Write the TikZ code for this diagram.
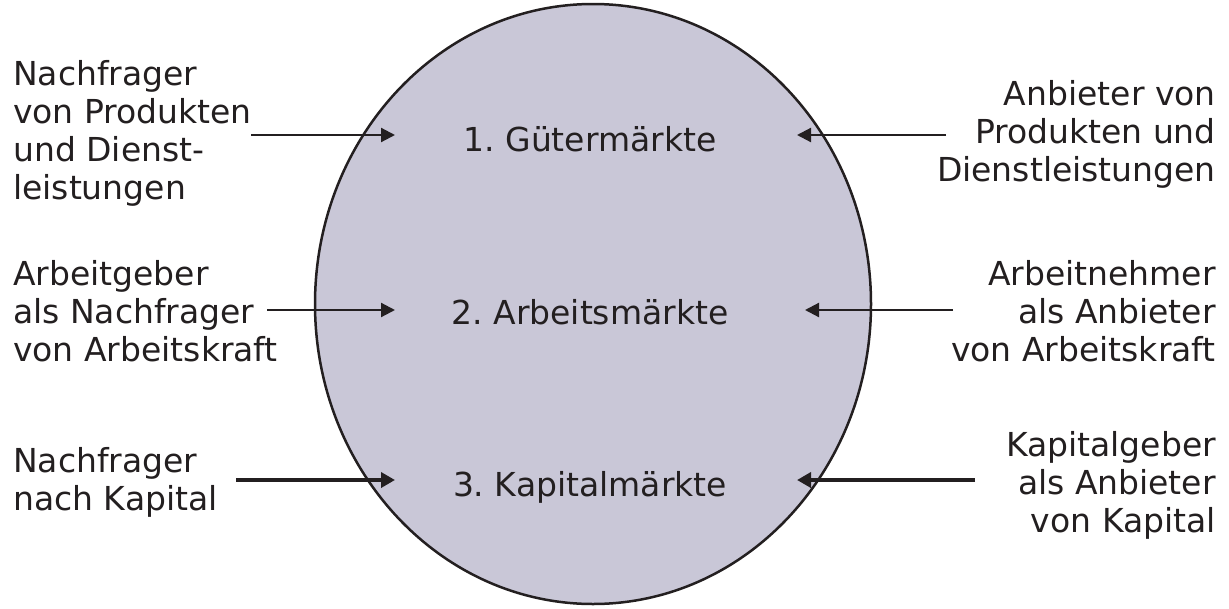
\documentclass[tikz,border=0pt]{standalone}
\usepackage{fontspec}
\setmainfont{DejaVu Sans}
\usetikzlibrary{arrows.meta}
\frenchspacing
\definecolor{ink}{HTML}{231F20}
\definecolor{market}{HTML}{C9C7D7}
\tikzset{
  lbl/.style={inner sep=0pt, text=ink, font=\fontsize{33}{38}\selectfont},
  lblL/.style={lbl, align=left, anchor=north west},
  lblR/.style={lbl, align=right, anchor=north east},
  mkt/.style={lbl, anchor=base},
  arr/.style={draw=ink, line width=2.2pt, -{Triangle[length=14pt,width=14pt]}},
  arrthick/.style={draw=ink, line width=4.2pt, -{Triangle[length=14pt,width=15pt]}}
}
\begin{document}
\begin{tikzpicture}[x=1pt,y=-1pt]
  \useasboundingbox (0,0) rectangle (1229,608);
  % the market circle
  \draw[ink, fill=market, line width=2.5pt] (593,304) ellipse [x radius=278, y radius=300];

  % markets
  \node[mkt] (g1) at (590,151) {1. Gütermärkte};
  \node[mkt] (g2) at (590,324) {2. Arbeitsmärkte};
  \node[mkt] (g3) at (590,496) {3. Kapitalmärkte};

  % demand side
  \node[lblL] (d1) at (13,60) {Nachfrager\\von Produkten\\und Dienst-\\leistungen};
  \node[lblL] (d2) at (13,260) {Arbeitgeber\\als Nachfrager\\von Arbeitskraft};
  \node[lblL] (d3) at (13,447) {Nachfrager\\nach Kapital};

  % supply side
  \node[lblR] (s1) at (1216,80) {Anbieter von\\Produkten und\\Dienstleistungen};
  \node[lblR] (s2) at (1216,260) {Arbeitnehmer\\als Anbieter\\von Arbeitskraft};
  \node[lblR] (s3) at (1216,431) {Kapitalgeber\\als Anbieter\\von Kapital};

  % connector ends
  \coordinate (d1a) at (251,135); \coordinate (d1b) at (395,135);
  \coordinate (d2a) at (267,310); \coordinate (d2b) at (395,310);
  \coordinate (d3a) at (236,480); \coordinate (d3b) at (395,480);
  \coordinate (s1a) at (946,135); \coordinate (s1b) at (797,135);
  \coordinate (s2a) at (953,310); \coordinate (s2b) at (805,310);
  \coordinate (s3a) at (975,480); \coordinate (s3b) at (797,480);

  \draw[arr] (d1a) -- (d1b);
  \draw[arr] (d2a) -- (d2b);
  \draw[arrthick] (d3a) -- (d3b);
  \draw[arr] (s1a) -- (s1b);
  \draw[arr] (s2a) -- (s2b);
  \draw[arrthick] (s3a) -- (s3b);
\end{tikzpicture}
\end{document}
